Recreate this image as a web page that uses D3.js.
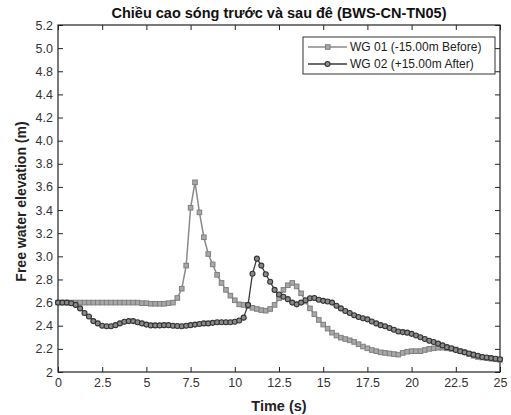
<!DOCTYPE html>
<html>
<head>
<meta charset="utf-8">
<script src="https://cdn.jsdelivr.net/npm/d3@7"></script>
<style>
  body { margin: 0; background: #fff; }
  text { font-family: "Liberation Sans", Arial, sans-serif; }
</style>
</head>
<body>
<div id="chart"></div>
<script>
// time steps every 0.25 s, 0 .. 25
const time = d3.range(0, 101).map(i => i * 0.25);

const wg01 = [
  2.60, 2.60, 2.60, 2.60, 2.60, 2.60, 2.60, 2.60, 2.60, 2.60,
  2.60, 2.60, 2.60, 2.60, 2.60, 2.60, 2.60, 2.60, 2.60, 2.595,
  2.595, 2.59, 2.59, 2.59, 2.59, 2.595, 2.60, 2.64, 2.72, 2.92,
  3.42, 3.64, 3.38, 3.165, 3.02, 2.93, 2.84, 2.77, 2.71, 2.66,
  2.62, 2.585, 2.58, 2.57, 2.555, 2.545, 2.535, 2.53, 2.545, 2.58,
  2.637, 2.71, 2.75, 2.77, 2.74, 2.68, 2.61, 2.55, 2.50, 2.45,
  2.41, 2.375, 2.34, 2.315, 2.297, 2.285, 2.274, 2.26, 2.24, 2.22,
  2.205, 2.19, 2.18, 2.17, 2.165, 2.16, 2.155, 2.15, 2.165, 2.175,
  2.18, 2.18, 2.18, 2.19, 2.20, 2.205, 2.21, 2.21, 2.205, 2.20,
  2.195, 2.18, 2.17, 2.155, 2.14, 2.13, 2.125, 2.12, 2.115, 2.11,
  2.105
];

const wg02 = [
  2.60, 2.60, 2.60, 2.594, 2.58, 2.55, 2.51, 2.48, 2.44, 2.42,
  2.40, 2.395, 2.395, 2.405, 2.42, 2.435, 2.44, 2.44, 2.43, 2.42,
  2.41, 2.403, 2.403, 2.403, 2.405, 2.405, 2.40, 2.398, 2.395, 2.40,
  2.405, 2.41, 2.415, 2.42, 2.42, 2.425, 2.43, 2.43, 2.43, 2.43,
  2.435, 2.445, 2.47, 2.58, 2.85, 2.98, 2.92, 2.845, 2.78, 2.71,
  2.67, 2.65, 2.63, 2.60, 2.585, 2.60, 2.62, 2.637, 2.64, 2.625,
  2.615, 2.61, 2.60, 2.573, 2.55, 2.527, 2.51, 2.49, 2.475, 2.465,
  2.455, 2.437, 2.42, 2.405, 2.395, 2.38, 2.365, 2.35, 2.345, 2.34,
  2.33, 2.315, 2.30, 2.285, 2.27, 2.26, 2.245, 2.23, 2.215, 2.205,
  2.19, 2.18, 2.17, 2.16, 2.15, 2.14, 2.13, 2.125, 2.12, 2.115,
  2.11
];

const seriesNames = ["WG 01 (-15.00m Before)", "WG 02 (+15.00m After)"];
const xTicks = [0, 2.5, 5, 7.5, 10, 12.5, 15, 17.5, 20, 22.5, 25];
const xTickLabels = ["0", "2.5", "5", "7.5", "10", "12.5", "15", "17.5", "20", "22.5", "25"];
const yTicks = [2, 2.2, 2.4, 2.6, 2.8, 3.0, 3.2, 3.4, 3.6, 3.8, 4.0, 4.2, 4.4, 4.6, 4.8, 5.0];
// the original figure's labels skip 4.6
const yTickLabels = ["2", "2.2", "2.4", "2.6", "2.8", "3.0", "3.2", "3.4", "3.6", "3.8", "4.0", "4.2", "4.4", "4.8", "5.0", "5.2"];

const W = 511, H = 415;
const margin = {top: 25, right: 11, bottom: 43, left: 58};
const width = W - margin.left - margin.right;
const height = H - margin.top - margin.bottom;

const svg = d3.select("#chart").append("svg")
  .attr("width", W)
  .attr("height", H)
  .append("g")
    .attr("transform", `translate(${margin.left},${margin.top})`);

const x = d3.scaleLinear().domain([0, 25]).range([0, width]);
const y = d3.scaleLinear().domain([2, 5]).range([height, 0]);

// axes, MATLAB style ticks pointing inward on all four sides
const styleAxis = g => {
  g.select(".domain").remove();
  g.selectAll("line").attr("stroke", "#222");
  g.selectAll("text").style("font-size", "12.5px").attr("fill", "#333");
};

svg.append("g")
  .attr("transform", `translate(0,${height})`)
  .call(d3.axisBottom(x).tickValues(xTicks).tickFormat((d, i) => xTickLabels[i])
    .tickSizeInner(-5).tickSizeOuter(0).tickPadding(6))
  .call(styleAxis);

svg.append("g")
  .call(d3.axisTop(x).tickValues(xTicks).tickFormat("")
    .tickSizeInner(-5).tickSizeOuter(0))
  .call(styleAxis);

svg.append("g")
  .call(d3.axisLeft(y).tickValues(yTicks).tickFormat((d, i) => yTickLabels[i])
    .tickSizeInner(-5).tickSizeOuter(0).tickPadding(5))
  .call(styleAxis);

svg.append("g")
  .attr("transform", `translate(${width},0)`)
  .call(d3.axisRight(y).tickValues(yTicks).tickFormat("")
    .tickSizeInner(-5).tickSizeOuter(0))
  .call(styleAxis);

svg.append("rect")
  .attr("width", width)
  .attr("height", height)
  .attr("fill", "none")
  .attr("stroke", "#222")
  .attr("stroke-width", 1.2);

// lines + markers
const line = d3.line()
  .x((d, i) => x(time[i]))
  .y(d => y(d));

svg.append("path")
  .datum(wg01)
  .attr("fill", "none")
  .attr("stroke", "#8a8a8a")
  .attr("stroke-width", 1.5)
  .attr("d", line);

svg.append("g").selectAll("rect")
  .data(wg01)
  .join("rect")
    .attr("x", (d, i) => x(time[i]) - 2.3)
    .attr("y", d => y(d) - 2.3)
    .attr("width", 4.6)
    .attr("height", 4.6)
    .attr("fill", "#a8a8a8")
    .attr("stroke", "#7f7f7f")
    .attr("stroke-width", 1);

svg.append("path")
  .datum(wg02)
  .attr("fill", "none")
  .attr("stroke", "#3a3a3a")
  .attr("stroke-width", 1.3)
  .attr("d", line);

svg.append("g").selectAll("circle")
  .data(wg02)
  .join("circle")
    .attr("cx", (d, i) => x(time[i]))
    .attr("cy", d => y(d))
    .attr("r", 2.5)
    .attr("fill", "#8a8a8a")
    .attr("stroke", "#333")
    .attr("stroke-width", 1.1);

// legend
const legend = svg.append("g")
  .attr("transform", `translate(${303 - margin.left},${37 - margin.top})`);

legend.append("rect")
  .attr("width", 192)
  .attr("height", 37)
  .attr("fill", "#fff")
  .attr("stroke", "#333")
  .attr("stroke-width", 1);

const items = legend.selectAll(".item")
  .data(seriesNames)
  .join("g")
    .attr("class", "item")
    .attr("transform", (d, i) => `translate(0,${10 + i * 17})`);

items.append("line")
  .attr("x1", 5).attr("x2", 44)
  .attr("stroke", (d, i) => i === 0 ? "#8a8a8a" : "#3a3a3a")
  .attr("stroke-width", 1.4);

items.filter((d, i) => i === 0).append("rect")
  .attr("x", 22.5).attr("y", -2.3)
  .attr("width", 4.6).attr("height", 4.6)
  .attr("fill", "#a8a8a8").attr("stroke", "#7f7f7f");

items.filter((d, i) => i === 1).append("circle")
  .attr("cx", 24.5).attr("r", 2.5)
  .attr("fill", "#8a8a8a").attr("stroke", "#333").attr("stroke-width", 1.1);

items.append("text")
  .attr("x", 47)
  .attr("dy", "0.35em")
  .style("font-size", "12px")
  .attr("fill", "#222")
  .text(d => d);

// title and axis labels
svg.append("text")
  .attr("x", width / 2)
  .attr("y", -7)
  .attr("text-anchor", "middle")
  .style("font-size", "14.5px")
  .style("font-weight", "bold")
  .attr("fill", "#111")
  .text("Chiều cao sóng trước và sau đê (BWS-CN-TN05)");

svg.append("text")
  .attr("x", width / 2)
  .attr("y", height + 39)
  .attr("text-anchor", "middle")
  .style("font-size", "14.5px")
  .style("font-weight", "bold")
  .attr("fill", "#222")
  .text("Time (s)");

svg.append("text")
  .attr("transform", "rotate(-90)")
  .attr("x", -height / 2 - 3)
  .attr("y", -32)
  .attr("text-anchor", "middle")
  .style("font-size", "14px")
  .style("font-weight", "bold")
  .attr("fill", "#222")
  .text("Free water elevation (m)");
</script>
</body>
</html>
